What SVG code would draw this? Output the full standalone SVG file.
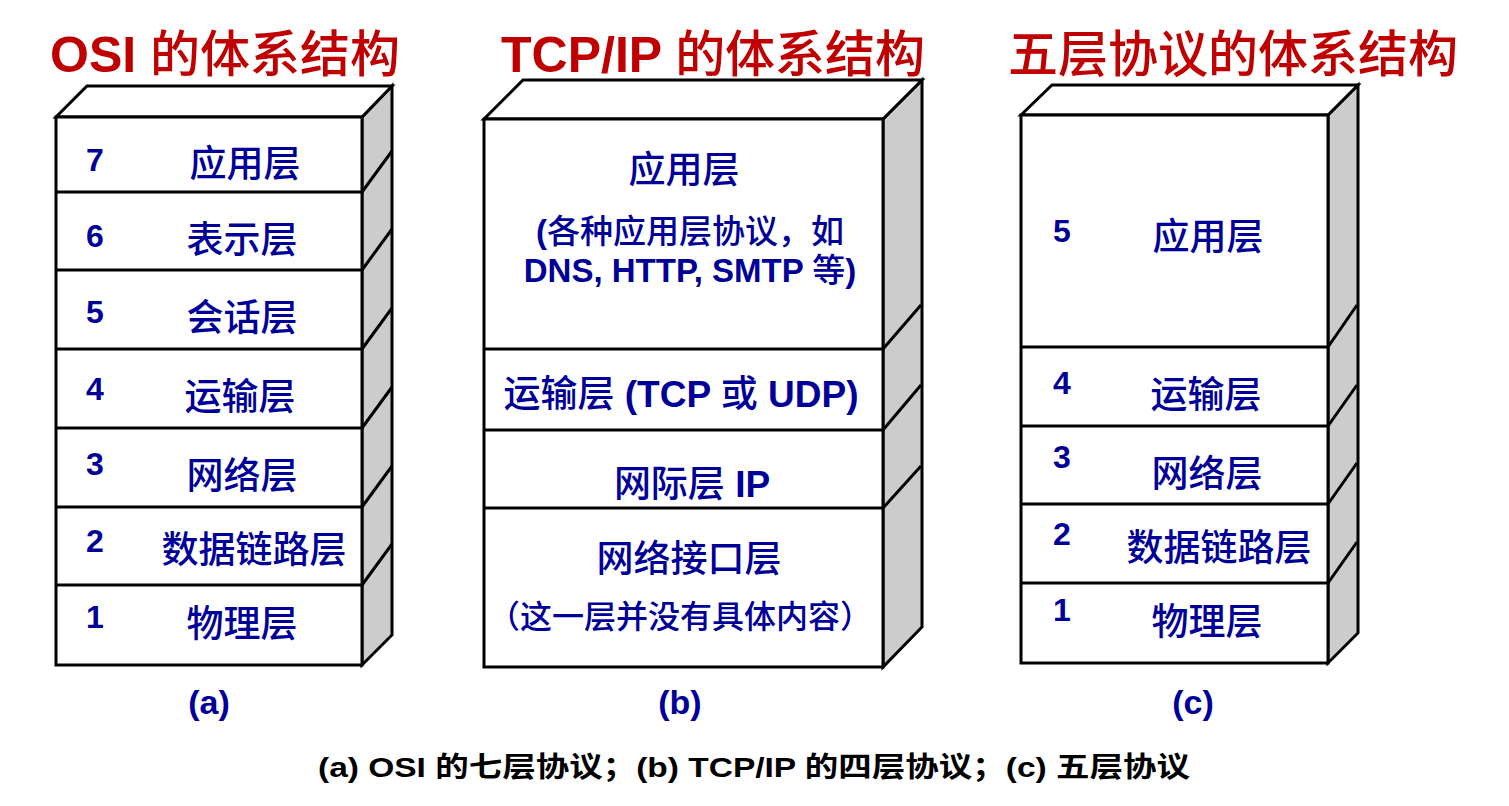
<svg xmlns="http://www.w3.org/2000/svg" width="1509" height="806" viewBox="0 0 1509 806">
<style>
.front{fill:#fff;stroke:#000;stroke-width:3}
.top{fill:#fff;stroke:#000;stroke-width:3;stroke-linejoin:miter}
.side{fill:#cccccc;stroke:#000;stroke-width:3}
.div{stroke:#000;stroke-width:3;fill:none}
.title{font-family:"Liberation Sans","Noto Sans CJK SC",sans-serif;font-size:50px;fill:#c00000}
.lat{font-weight:bold}
.cjk{font-weight:500}
.num{font-family:"Liberation Sans",sans-serif;font-weight:bold;font-size:32px;fill:#000099;text-anchor:middle}
.name{font-family:"Liberation Sans","Noto Sans CJK SC",sans-serif;font-weight:500;font-size:37px;fill:#000099;text-anchor:middle}
.sub{font-family:"Liberation Sans","Noto Sans CJK SC",sans-serif;font-size:33px;fill:#000099;text-anchor:middle}
.lbl{font-family:"Liberation Sans",sans-serif;font-weight:bold;font-size:34px;fill:#000099;text-anchor:middle}
.cap{font-family:"Liberation Sans","Noto Sans CJK SC",sans-serif;font-weight:bold;font-size:28px;fill:#000}
</style>
<rect width="1509" height="806" fill="#fff"/>

<g id="titles">
<text class="title" x="50" y="72"><tspan class="lat">OSI </tspan><tspan class="cjk">的体系结构</tspan></text>
<text class="title" x="501" y="72"><tspan class="lat">TCP/IP </tspan><tspan class="cjk">的体系结构</tspan></text>
<text class="title cjk" x="1008" y="72">五层协议的体系结构</text>
</g>

<g id="stack-a">
<polygon class="side" points="362,117 392,86 392,635 362,665"/>
<polygon class="top" points="56,117 87,86 392,86 362,117"/>
<rect class="front" x="56" y="117" width="306" height="548"/>
<g class="div">
<line x1="56" y1="192" x2="362" y2="192"/><line x1="362" y1="192" x2="392" y2="151"/>
<line x1="56" y1="270" x2="362" y2="270"/><line x1="362" y1="270" x2="392" y2="229"/>
<line x1="56" y1="349" x2="362" y2="349"/><line x1="362" y1="349" x2="392" y2="308"/>
<line x1="56" y1="428" x2="362" y2="428"/><line x1="362" y1="428" x2="392" y2="387"/>
<line x1="56" y1="507" x2="362" y2="507"/><line x1="362" y1="507" x2="392" y2="466"/>
<line x1="56" y1="585" x2="362" y2="585"/><line x1="362" y1="585" x2="392" y2="544"/>
</g>
<g id="a7"><text class="num" x="95" y="171">7</text><text class="name" x="245" y="177">应用层</text></g>
<g id="a6"><text class="num" x="95" y="247">6</text><text class="name" x="242" y="253">表示层</text></g>
<g id="a5"><text class="num" x="95" y="323">5</text><text class="name" x="242" y="331">会话层</text></g>
<g id="a4"><text class="num" x="95" y="400">4</text><text class="name" x="240" y="410">运输层</text></g>
<g id="a3"><text class="num" x="95" y="475">3</text><text class="name" x="242" y="489">网络层</text></g>
<g id="a2"><text class="num" x="95" y="552">2</text><text class="name" x="254" y="563">数据链路层</text></g>
<g id="a1"><text class="num" x="95" y="628">1</text><text class="name" x="242" y="637">物理层</text></g>
</g>

<g id="stack-b">
<polygon class="side" points="883,119 922,80 922,627 883,667"/>
<polygon class="top" points="484,119 523,80 922,80 883,119"/>
<rect class="front" x="484" y="119" width="399" height="548"/>
<g class="div">
<line x1="484" y1="349" x2="883" y2="349"/><line x1="883" y1="349" x2="921" y2="305"/>
<line x1="484" y1="430" x2="883" y2="430"/><line x1="883" y1="430" x2="921" y2="385"/>
<line x1="484" y1="508" x2="883" y2="508"/><line x1="883" y1="508" x2="921" y2="466"/>
</g>
<g id="b-app">
<text class="name" x="684" y="183">应用层</text>
<text class="sub" x="690" y="243"><tspan class="lat">(</tspan><tspan class="cjk">各种应用层协议，如</tspan></text>
<text class="sub" x="690" y="282"><tspan class="lat">DNS, HTTP, SMTP </tspan><tspan class="cjk">等</tspan><tspan class="lat">)</tspan></text>
</g>
<g id="b-trans">
<text class="name" x="681" y="407"><tspan class="cjk">运输层 </tspan><tspan class="lat">(TCP </tspan><tspan class="cjk">或 </tspan><tspan class="lat">UDP)</tspan></text>
</g>
<g id="b-ip">
<text class="name" x="692" y="497"><tspan class="cjk">网际层 </tspan><tspan class="lat">IP</tspan></text>
</g>
<g id="b-link">
<text class="name" x="689" y="572">网络接口层</text>
<text class="sub cjk" x="680" y="628" style="font-size:32px">（这一层并没有具体内容）</text>
</g>
</g>

<g id="stack-c">
<polygon class="side" points="1328,115 1358,85 1358,633 1328,663"/>
<polygon class="top" points="1021,115 1052,85 1358,85 1328,115"/>
<rect class="front" x="1021" y="115" width="307" height="548"/>
<g class="div">
<line x1="1021" y1="347" x2="1328" y2="347"/><line x1="1328" y1="347" x2="1357" y2="305"/>
<line x1="1021" y1="426" x2="1328" y2="426"/><line x1="1328" y1="426" x2="1357" y2="385"/>
<line x1="1021" y1="504" x2="1328" y2="504"/><line x1="1328" y1="504" x2="1357" y2="463"/>
<line x1="1021" y1="583" x2="1328" y2="583"/><line x1="1328" y1="583" x2="1357" y2="542"/>
</g>
<g id="c5"><text class="num" x="1062" y="242">5</text><text class="name" x="1208" y="250">应用层</text></g>
<g id="c4"><text class="num" x="1062" y="394">4</text><text class="name" x="1206" y="408">运输层</text></g>
<g id="c3"><text class="num" x="1062" y="468">3</text><text class="name" x="1207" y="487">网络层</text></g>
<g id="c2"><text class="num" x="1062" y="545">2</text><text class="name" x="1219" y="561">数据链路层</text></g>
<g id="c1"><text class="num" x="1062" y="621">1</text><text class="name" x="1207" y="635">物理层</text></g>
</g>

<g id="labels">
<text class="lbl" x="209" y="714">(a)</text>
<text class="lbl" x="680" y="714">(b)</text>
<text class="lbl" x="1193" y="714">(c)</text>
</g>

<g id="caption">
<text class="cap" x="318" y="777" textLength="872" lengthAdjust="spacingAndGlyphs">(a) OSI 的七层协议；(b) TCP/IP 的四层协议；(c) 五层协议</text>
</g>
</svg>
